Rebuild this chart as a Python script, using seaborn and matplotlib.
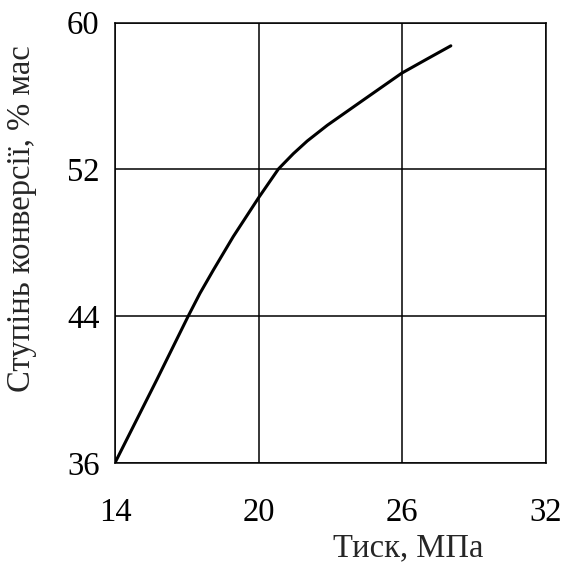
import numpy as np
import pandas as pd
import matplotlib
matplotlib.use("Agg")
import matplotlib.pyplot as plt
import seaborn as sns

# values
pressure = [14.0, 15.74, 17.06, 17.55, 18.11, 18.94, 20.0, 20.83, 21.45,
            22.03, 22.87, 24.4, 25.98, 27.02, 28.03]
conversion = [36.0, 40.51, 44.0, 45.24, 46.51, 48.33, 50.45, 52.02, 52.85,
              53.54, 54.4, 55.8, 57.24, 58.0, 58.73]
x_ticks = [14, 20, 26, 32]
y_ticks = [36, 44, 52, 60]

df = pd.DataFrame({"Тиск": pressure, "Конверсія": conversion})

sns.set_style("whitegrid")
plt.rcParams["font.family"] = ["Liberation Serif", "DejaVu Serif"]

fig = plt.figure(figsize=(5.61, 5.63), dpi=100)
ax = fig.add_axes([0.205, 0.178, 0.768, 0.782])

sns.lineplot(data=df, x="Тиск", y="Конверсія", ax=ax, color="black", linewidth=2.2)

ax.set_xlim(14, 32)
ax.set_ylim(36, 60)
ax.set_xticks(x_ticks)
ax.set_yticks(y_ticks)
ax.grid(True, color="black", linewidth=1.1)
for s in ax.spines.values():
    s.set_color("black")
    s.set_linewidth(1.1)

ax.tick_params(axis="both", labelsize=23.5, colors="black", direction="out", length=5, width=1.1)
ax.tick_params(axis="x", pad=20)
ax.tick_params(axis="y", pad=6)

ax.set_xlabel("Тиск, МПа", fontsize=23.5)
ax.set_ylabel("Ступінь конверсії, % мас", fontsize=23.5)
ax.xaxis.set_label_coords(0.68, -0.16)
ax.yaxis.set_label_coords(-0.18, 0.555)

fig.savefig("out.png", dpi=100)
